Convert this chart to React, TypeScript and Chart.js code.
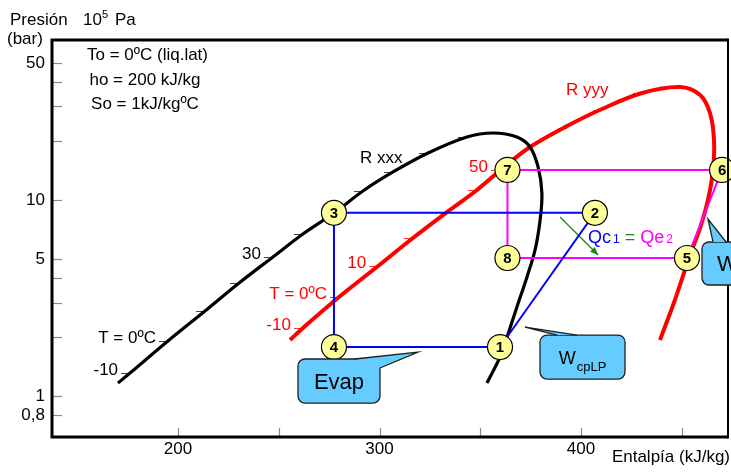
import React, { useEffect, useRef } from 'react';
import { Chart, registerables } from 'chart.js';

Chart.register(...registerables);

const FONT = '"Liberation Sans", Arial, Helvetica, sans-serif';

// ---- axes ----
const xMin = 137.47;
const xMax = 472.95;
const yMin = 0.618;
const yMax = 65.5;
const xTicks = [200, 250, 300, 350, 400, 450];
const xLabeled = [200, 300, 400];
const yTicks = [0.8, 1, 2, 3, 4, 5, 10, 20, 30, 40, 50];
const yLabeled = [0.8, 1, 5, 10, 50];
const yLabelText = ['0,8', '1', '5', '10', '50'];

// ---- saturation dome R xxx (black) ----
const domeXxxH = [170.2, 176.2, 195.0, 213.4, 230.3, 247.1, 262.0, 277.4, 291.8, 306.7, 324.1, 343.4, 356.3, 368.2, 374.7, 378.7, 380.6, 379.7, 377.2, 373.2, 368.2, 363.3, 359.8, 353.3];
const domeXxxP = [1.165, 1.31, 1.908, 2.715, 3.772, 5.12, 6.71, 8.58, 11.12, 13.9, 17.37, 20.96, 21.97, 20.96, 18.64, 14.74, 10.86, 7.91, 5.56, 4.05, 2.845, 2.0, 1.58, 1.165];

// ---- saturation dome R yyy (red) ----
const domeYyyH = [255.6, 262.0, 279.9, 299.3, 316.6, 333.5, 348.4, 361.3, 374.7, 393.1, 410.4, 430.3, 449.1, 459.1, 464.0, 466.0, 465.5, 463.0, 459.1, 454.1, 446.6, 439.2];
const domeYyyP = [1.931, 2.223, 3.2, 4.607, 6.40, 8.68, 11.25, 14.57, 18.64, 23.85, 29.13, 35.15, 37.71, 34.34, 27.79, 20.24, 14.23, 10.0, 7.2, 5.24, 3.09, 1.931];

// ---- isotherm marks on the domes ----
const xxxTickH = [176.2, 195.0, 213.4, 230.3, 247.1, 262.0, 291.8, 306.7, 324.1, 343.4];
const xxxTickP = [1.31, 1.908, 2.715, 3.772, 5.12, 6.71, 11.12, 13.9, 17.37, 20.96];
const xxxTickLabels = ['-10', 'T = 0ºC', '', '', '30', '', '', '', '', ''];
const yyyTickH = [262.0, 279.9, 299.3, 316.6, 348.4, 359.8, 393.1, 410.4, 430.3, 449.1];
const yyyTickP = [2.223, 3.2, 4.607, 6.40, 11.25, 14.23, 23.3, 28.79, 35.15, 37.71];
const yyyTickLabels = ['-10', 'T = 0ºC', '10', '', '', '50', '', '', '', ''];

// ---- curve names ----
const curveNames = ['R xxx', 'R yyy'];
const curveNameH = [290.3, 392.6];
const curveNameP = [15.45, 34.34];

// ---- cycle 1 (blue): 1-2-3-4-1 ----
const cycle1H = [359.8, 406.9, 277.4, 277.4, 359.8];
const cycle1P = [1.778, 8.6, 8.6, 1.778, 1.778];
// ---- cycle 2 (magenta): 5-6-7-8-5 ----
const cycle2H = [452.6, 470.0, 363.5, 363.5, 452.6];
const cycle2P = [5.06, 14.23, 14.23, 5.06, 5.06];

// ---- state points ----
const stateLabels = ['1', '2', '3', '4', '5', '6', '7', '8'];
const stateH = [359.8, 406.9, 277.4, 277.4, 452.6, 470.0, 363.5, 363.5];
const stateP = [1.778, 8.6, 8.6, 1.778, 5.06, 14.23, 14.23, 5.06];

// ---- heat transfer arrow ----
const arrowH = [389.6, 408.5];
const arrowP = [8.19, 5.24];
const qTextH = 403.5;
const qTextP = 6.035;

// ---- callouts (data coordinates) ----
const callouts = [
  { text: 'Evap', sub: '', size: 22, box: [259.55, 1.545, 300.25, 0.921], tail: [287.8, 1.545, 319.1, 1.677, 300.25, 1.39], align: 'center' },
  { text: 'W', sub: 'cpLP', size: 18, box: [379.65, 2.047, 421.84, 1.221], tail: [388.1, 2.047, 372.2, 2.249, 398.0, 2.047], align: 'center' },
  { text: 'W', sub: '', size: 22, box: [460.05, 6.107, 490, 3.685], tail: [465.5, 6.107, 463.03, 8.0, 472.0, 6.107], align: 'left' },
];

const pts = (hs: number[], ps: number[]) => hs.map((h, i) => ({ x: h, y: ps[i] }));

function roundRectPath(ctx: any, x1: number, y1: number, x2: number, y2: number, r: number) {
  ctx.beginPath();
  ctx.moveTo(x1 + r, y1);
  ctx.arcTo(x2, y1, x2, y2, r);
  ctx.arcTo(x2, y2, x1, y2, r);
  ctx.arcTo(x1, y2, x1, y1, r);
  ctx.arcTo(x1, y1, x2, y1, r);
  ctx.closePath();
}

const overlay = {
  id: 'overlay',
  beforeDatasetsDraw(chart: any) {
    const ctx = chart.ctx;
    const xs = chart.scales.x;
    const ys = chart.scales.y;
    const X = (v: number) => xs.getPixelForValue(v);
    const Y = (v: number) => ys.getPixelForValue(v);
    ctx.save();
    const drawTicks = (hs: number[], ps: number[], labels: string[], tickColor: string, textColor: string) => {
      ctx.font = `17px ${FONT}`;
      ctx.textAlign = 'right';
      ctx.textBaseline = 'alphabetic';
      hs.forEach((h, i) => {
        const x = X(h);
        const y = Math.round(Y(ps[i])) + 0.5;
        ctx.strokeStyle = tickColor;
        ctx.lineWidth = 1;
        ctx.beginPath();
        ctx.moveTo(x - 9, y);
        ctx.lineTo(x, y);
        ctx.stroke();
        if (labels[i]) {
          ctx.fillStyle = textColor;
          ctx.fillText(labels[i], x - 12, y + 1);
        }
      });
    };
    drawTicks(xxxTickH, xxxTickP, xxxTickLabels, '#444', '#000');
    drawTicks(yyyTickH, yyyTickP, yyyTickLabels, '#ff3030', '#ff0000');
    ctx.font = `17px ${FONT}`;
    ctx.textAlign = 'left';
    ctx.textBaseline = 'alphabetic';
    const nameColors = ['#000', '#ff0000'];
    curveNames.forEach((n, i) => {
      ctx.fillStyle = nameColors[i];
      ctx.fillText(n, X(curveNameH[i]), Y(curveNameP[i]));
    });
    ctx.restore();
  },
  afterDatasetsDraw(chart: any) {
    const ctx = chart.ctx;
    const xs = chart.scales.x;
    const ys = chart.scales.y;
    const X = (v: number) => xs.getPixelForValue(v);
    const Y = (v: number) => ys.getPixelForValue(v);
    ctx.save();
    // arrow head
    const x0 = X(arrowH[0]), y0 = Y(arrowP[0]), x1 = X(arrowH[1]), y1 = Y(arrowP[1]);
    const ang = Math.atan2(y1 - y0, x1 - x0);
    ctx.fillStyle = '#1a8a1a';
    ctx.beginPath();
    ctx.moveTo(x1, y1);
    ctx.lineTo(x1 - 8 * Math.cos(ang) + 3.5 * Math.sin(ang), y1 - 8 * Math.sin(ang) - 3.5 * Math.cos(ang));
    ctx.lineTo(x1 - 8 * Math.cos(ang) - 3.5 * Math.sin(ang), y1 - 8 * Math.sin(ang) + 3.5 * Math.cos(ang));
    ctx.closePath();
    ctx.fill();
    // Qc1 = Qe2
    const pieces = [
      { t: 'Qc', s: 18, c: '#0000ff', gap: 2 },
      { t: '1', s: 12, c: '#0000ff', gap: 0 },
      { t: ' = ', s: 18, c: '#1a8a1a', gap: 0 },
      { t: 'Qe', s: 18, c: '#ff00ff', gap: 2 },
      { t: '2', s: 12, c: '#ff00ff', gap: 0 },
    ];
    let tx = X(qTextH);
    const ty = Y(qTextP);
    ctx.textAlign = 'left';
    ctx.textBaseline = 'alphabetic';
    pieces.forEach((p) => {
      ctx.font = `${p.s}px ${FONT}`;
      ctx.fillStyle = p.c;
      ctx.fillText(p.t, tx, ty);
      tx += ctx.measureText(p.t).width + p.gap;
    });
    // state numbers
    const meta = chart.getDatasetMeta(0);
    ctx.font = `bold 15px ${FONT}`;
    ctx.fillStyle = '#000';
    ctx.textAlign = 'center';
    ctx.textBaseline = 'middle';
    meta.data.forEach((el: any, i: number) => {
      ctx.fillText(stateLabels[i], el.x, el.y + 1);
    });
    ctx.restore();
  },
  afterDraw(chart: any) {
    const ctx = chart.ctx;
    const xs = chart.scales.x;
    const ys = chart.scales.y;
    const X = (v: number) => xs.getPixelForValue(v);
    const Y = (v: number) => ys.getPixelForValue(v);
    const { left, right, top, bottom } = chart.chartArea;
    ctx.save();
    // inner tick marks
    ctx.strokeStyle = '#8a8a8a';
    ctx.lineWidth = 1.2;
    yTicks.forEach((v) => {
      const y = Math.round(Y(v)) + 0.5;
      ctx.beginPath();
      ctx.moveTo(left, y);
      ctx.lineTo(left + 10, y);
      ctx.stroke();
    });
    xTicks.forEach((v) => {
      const x = Math.round(X(v)) + 0.5;
      ctx.beginPath();
      ctx.moveTo(x, bottom);
      ctx.lineTo(x, bottom - 9);
      ctx.stroke();
    });
    // frame
    ctx.strokeStyle = '#000';
    ctx.lineWidth = 3;
    ctx.beginPath();
    ctx.moveTo(right, top);
    ctx.lineTo(left, top);
    ctx.lineTo(left, bottom);
    ctx.lineTo(right, bottom);
    ctx.stroke();
    ctx.lineWidth = 2;
    ctx.beginPath();
    ctx.moveTo(right, top - 1.5);
    ctx.lineTo(right, bottom + 1.5);
    ctx.stroke();
    // titles
    ctx.fillStyle = '#000';
    ctx.textAlign = 'left';
    ctx.textBaseline = 'alphabetic';
    ctx.font = `17px ${FONT}`;
    ctx.fillText('Presión', 10, 25);
    ctx.fillText('10', 83, 25);
    ctx.fillText('Pa', 115, 25);
    ctx.font = `11px ${FONT}`;
    ctx.fillText('5', 102, 18);
    ctx.font = `17px ${FONT}`;
    ctx.fillText('(bar)', 7, 44);
    ctx.textAlign = 'right';
    ctx.fillText('Entalpía (kJ/kg)', 730, 462);
    ctx.textAlign = 'center';
    ctx.fillText('To = 0ºC (liq.lat)', 147.5, 59.5);
    ctx.fillText('ho = 200 kJ/kg', 145, 85);
    ctx.fillText('So = 1kJ/kgºC', 145, 108.5);
    // callouts
    callouts.forEach((c) => {
      const bx1 = X(c.box[0]), by1 = Y(c.box[1]), bx2 = X(c.box[2]), by2 = Y(c.box[3]);
      const ax = X(c.tail[0]), ay = Y(c.tail[1]);
      const tpx = X(c.tail[2]), tpy = Y(c.tail[3]);
      const bx = X(c.tail[4]), byy = Y(c.tail[5]);
      ctx.fillStyle = '#66ccff';
      ctx.strokeStyle = '#1e1e1e';
      ctx.lineWidth = 1.3;
      ctx.beginPath();
      ctx.moveTo(ax, ay);
      ctx.lineTo(tpx, tpy);
      ctx.lineTo(bx, byy);
      ctx.closePath();
      ctx.fill();
      roundRectPath(ctx, bx1, by1, bx2, by2, 7);
      ctx.fill();
      ctx.beginPath();
      ctx.moveTo(ax, ay);
      ctx.lineTo(tpx, tpy);
      ctx.lineTo(bx, byy);
      ctx.stroke();
      ctx.save();
      ctx.beginPath();
      ctx.rect(0, 0, chart.width, chart.height);
      ctx.moveTo(ax, ay);
      ctx.lineTo(tpx, tpy);
      ctx.lineTo(bx, byy);
      ctx.closePath();
      ctx.clip('evenodd');
      roundRectPath(ctx, bx1, by1, bx2, by2, 7);
      ctx.stroke();
      ctx.restore();
      // text
      ctx.fillStyle = '#000';
      ctx.textAlign = 'left';
      ctx.textBaseline = 'alphabetic';
      ctx.font = `${c.size}px ${FONT}`;
      const mainW = ctx.measureText(c.text).width;
      ctx.font = `13px ${FONT}`;
      const subW = c.sub ? ctx.measureText(c.sub).width : 0;
      const total = mainW + subW + (c.sub ? 1 : 0);
      const cy = (by1 + by2) / 2 + c.size * 0.36;
      const sx = c.align === 'center' ? (bx1 + bx2) / 2 - total / 2 : bx1 + 15;
      ctx.font = `${c.size}px ${FONT}`;
      ctx.fillText(c.text, sx, cy);
      if (c.sub) {
        ctx.font = `13px ${FONT}`;
        ctx.fillText(c.sub, sx + mainW + 1, cy + 7);
      }
    });
    ctx.restore();
  },
};

export default function App() {
  const ref = useRef<HTMLCanvasElement>(null);
  useEffect(() => {
    const canvas = ref.current as HTMLCanvasElement;
    const chart = new Chart(canvas, {
      type: 'scatter',
      data: {
        datasets: [
          {
            data: pts(stateH, stateP),
            showLine: false,
            pointRadius: 12.5,
            pointBackgroundColor: '#ffff99',
            pointBorderColor: '#000',
            pointBorderWidth: 1.2,
            clip: false,
            order: -1,
          } as any,
          {
            data: pts(cycle1H, cycle1P),
            showLine: true,
            borderColor: '#0000ff',
            borderWidth: 2,
            pointRadius: 0,
            tension: 0,
          },
          {
            data: pts(cycle2H, cycle2P),
            showLine: true,
            borderColor: '#ff00ff',
            borderWidth: 2,
            pointRadius: 0,
            tension: 0,
          },
          {
            data: pts(arrowH, arrowP),
            showLine: true,
            borderColor: '#1a8a1a',
            borderWidth: 1.3,
            pointRadius: 0,
            tension: 0,
          },
          {
            data: pts(domeXxxH, domeXxxP),
            showLine: true,
            borderColor: '#000',
            borderWidth: 3.2,
            pointRadius: 0,
            tension: 0.35,
          },
          {
            data: pts(domeYyyH, domeYyyP),
            showLine: true,
            borderColor: '#ff0000',
            borderWidth: 4,
            pointRadius: 0,
            tension: 0.35,
          },
        ],
      },
      options: {
        responsive: false,
        animation: false,
        devicePixelRatio: 1,
        events: [],
        layout: { autoPadding: false, padding: { left: 0, right: 3, top: 40, bottom: 0 } },
        plugins: { legend: { display: false }, tooltip: { enabled: false } },
        scales: {
          x: {
            type: 'linear',
            min: xMin,
            max: xMax,
            bounds: 'data',
            grid: { display: false, drawTicks: false },
            border: { display: false },
            afterBuildTicks: (s: any) => {
              s.ticks = xTicks.map((v) => ({ value: v }));
            },
            afterFit: (s: any) => {
              s.height = 35;
              s.paddingLeft = 0;
              s.paddingRight = 0;
              s.paddingTop = 0;
              s.paddingBottom = 0;
            },
            ticks: {
              autoSkip: false,
              maxRotation: 0,
              padding: 2,
              color: '#000',
              font: { family: FONT, size: 17 },
              callback: (v: any) => (xLabeled.indexOf(Number(v)) >= 0 ? String(v) : ''),
            },
          },
          y: {
            type: 'logarithmic',
            min: yMin,
            max: yMax,
            bounds: 'data',
            grid: { display: false, drawTicks: false },
            border: { display: false },
            afterBuildTicks: (s: any) => {
              s.ticks = yTicks.map((v) => ({ value: v }));
            },
            afterFit: (s: any) => {
              s.width = 52;
              s.paddingLeft = 0;
              s.paddingRight = 0;
              s.paddingTop = 0;
              s.paddingBottom = 0;
            },
            ticks: {
              autoSkip: false,
              padding: 7,
              color: '#000',
              font: { family: FONT, size: 17 },
              callback: (v: any) => {
                const i = yLabeled.indexOf(Number(v));
                return i >= 0 ? yLabelText[i] : '';
              },
            },
          },
        },
      } as any,
      plugins: [overlay],
    });
    return () => chart.destroy();
  }, []);
  return (
    <div style={{ position: 'fixed', left: 0, top: 0, width: 731, height: 472, background: '#fff' }}>
      <canvas ref={ref} width={731} height={472} style={{ display: 'block', width: 731, height: 472 }} />
    </div>
  );
}
